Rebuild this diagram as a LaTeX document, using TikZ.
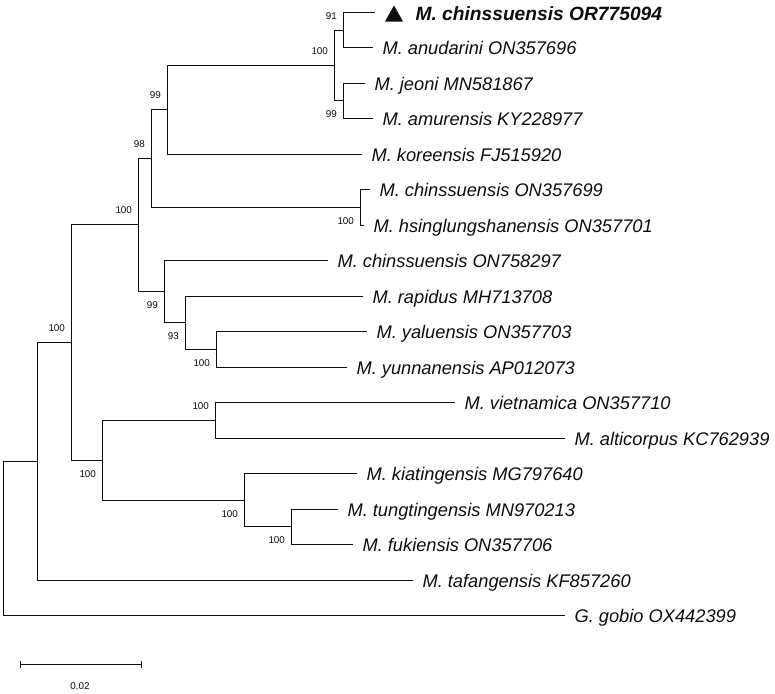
\documentclass[tikz,border=0pt]{standalone}
\usepackage{fontspec}
\setmainfont{Liberation Sans}
\usepackage{tikz}
\usetikzlibrary{calc, arrows.meta, positioning}
\definecolor{mainBlack}{gray}{0.05}
\newcommand{\taxfont}{\fontsize{13.7}{16}\selectfont\itshape}
\newcommand{\bootfont}{\fontsize{7.4}{9}\selectfont}

\begin{document}
\begin{tikzpicture}[x=0.75pt, y=-0.75pt, line width=0.8pt, mainBlack,
    taxon/.style={anchor=base west, inner sep=0pt, font=\taxfont},
    boot/.style={anchor=east, inner sep=0pt, font=\bootfont}]
    \useasboundingbox (0,0) rectangle (775,693);

    % Tips
    \coordinate (t1) at (375,12.5);
    \coordinate (t2) at (373,47.5);
    \coordinate (t3) at (365,83.5);
    \coordinate (t4) at (373,118.5);
    \coordinate (t5) at (362,154.5);
    \coordinate (t6) at (370,189.5);
    \coordinate (t7) at (364,225.5);
    \coordinate (t8) at (328,260.5);
    \coordinate (t9) at (363,296.5);
    \coordinate (t10) at (367,331.5);
    \coordinate (t11) at (347,367.5);
    \coordinate (t12) at (455,402.5);
    \coordinate (t13) at (565,438.5);
    \coordinate (t14) at (357,473.5);
    \coordinate (t15) at (338,509.5);
    \coordinate (t16) at (353,544.5);
    \coordinate (t17) at (413,580.5);
    \coordinate (t18) at (565,615.5);

    % Inner nodes
    \coordinate (i1) at (343.5,30.5);
    \coordinate (i2) at (343.5,100.5);
    \coordinate (i3) at (334.5,65.5);
    \coordinate (i4) at (167.5,109.5);
    \coordinate (i5) at (360.5,207.5);
    \coordinate (i6) at (151.5,158.5);
    \coordinate (i7) at (216.5,349.5);
    \coordinate (i8) at (185.5,322.5);
    \coordinate (i9) at (164.5,291.5);
    \coordinate (i10) at (138.5,224.5);
    \coordinate (i11) at (215.5,420.5);
    \coordinate (i12) at (291.5,526.5);
    \coordinate (i13) at (244.5,500.5);
    \coordinate (i14) at (102.5,460.5);
    \coordinate (i15) at (71.5,342.5);
    \coordinate (i16) at (37.5,461.5);
    \coordinate (root) at (3.5,538.5);

    % Branches
    \draw (i1) |- (t1);  \draw (i1) |- (t2);
    \draw (i2) |- (t3);  \draw (i2) |- (t4);
    \draw (i3) |- (i1);  \draw (i3) |- (i2);
    \draw (i4) |- (i3);  \draw (i4) |- (t5);
    \draw (i5) |- (t6);  \draw (i5) |- (t7);
    \draw (i6) |- (i4);  \draw (i6) |- (i5);
    \draw (i7) |- (t10); \draw (i7) |- (t11);
    \draw (i8) |- (t9);  \draw (i8) |- (i7);
    \draw (i9) |- (t8);  \draw (i9) |- (i8);
    \draw (i10) |- (i6); \draw (i10) |- (i9);
    \draw (i11) |- (t12); \draw (i11) |- (t13);
    \draw (i12) |- (t15); \draw (i12) |- (t16);
    \draw (i13) |- (t14); \draw (i13) |- (i12);
    \draw (i14) |- (i11); \draw (i14) |- (i13);
    \draw (i15) |- (i10); \draw (i15) |- (i14);
    \draw (i16) |- (i15); \draw (i16) |- (t17);
    \draw (root) |- (i16); \draw (root) |- (t18);

    % Bootstrap values
    \node[boot] (b1) at ($(i1)+(-6,-14)$) {91};
    \node[boot] (b2) at ($(i2)+(-6,14)$) {99};
    \node[boot] (b3) at ($(i3)+(-6,-14)$) {100};
    \node[boot] (b4) at ($(i4)+(-6,-14)$) {99};
    \node[boot] (b5) at ($(i5)+(-6,14)$) {100};
    \node[boot] (b6) at ($(i6)+(-6,-14)$) {98};
    \node[boot] (b7) at ($(i7)+(-6,14)$) {100};
    \node[boot] (b8) at ($(i8)+(-6,14)$) {93};
    \node[boot] (b9) at ($(i9)+(-6,14)$) {99};
    \node[boot] (b10) at ($(i10)+(-6,-14)$) {100};
    \node[boot] (b11) at ($(i11)+(-6,-14)$) {100};
    \node[boot] (b12) at ($(i12)+(-6,14)$) {100};
    \node[boot] (b13) at ($(i13)+(-6,14)$) {100};
    \node[boot] (b14) at ($(i14)+(-6,14)$) {100};
    \node[boot] (b15) at ($(i15)+(-6,-14)$) {100};

    % Taxa
    \fill ($(t1)+(10,9)$) -- ($(t1)+(28,9)$) -- ($(t1)+(19,-7)$) -- cycle;
    \node[taxon, font=\fontsize{14.4}{16}\selectfont\bfseries\itshape] (l1) at ($(t1)+(40,8)$) {M. chinssuensis OR775094};
    \node[taxon] (l2) at ($(t2)+(9,6.6)$) {M. anudarini ON357696};
    \node[taxon] (l3) at ($(t3)+(9,6.6)$) {M. jeoni MN581867};
    \node[taxon] (l4) at ($(t4)+(9,6.6)$) {M. amurensis KY228977};
    \node[taxon] (l5) at ($(t5)+(9,6.6)$) {M. koreensis FJ515920};
    \node[taxon] (l6) at ($(t6)+(9,6.6)$) {M. chinssuensis ON357699};
    \node[taxon] (l7) at ($(t7)+(9,6.6)$) {M. hsinglungshanensis ON357701};
    \node[taxon] (l8) at ($(t8)+(9,6.6)$) {M. chinssuensis ON758297};
    \node[taxon] (l9) at ($(t9)+(9,6.6)$) {M. rapidus MH713708};
    \node[taxon] (l10) at ($(t10)+(9,6.6)$) {M. yaluensis ON357703};
    \node[taxon] (l11) at ($(t11)+(9,6.6)$) {M. yunnanensis AP012073};
    \node[taxon] (l12) at ($(t12)+(9,6.6)$) {M. vietnamica ON357710};
    \node[taxon] (l13) at ($(t13)+(9,6.6)$) {M. alticorpus KC762939};
    \node[taxon] (l14) at ($(t14)+(9,6.6)$) {M. kiatingensis MG797640};
    \node[taxon] (l15) at ($(t15)+(9,6.6)$) {M. tungtingensis MN970213};
    \node[taxon] (l16) at ($(t16)+(9,6.6)$) {M. fukiensis ON357706};
    \node[taxon] (l17) at ($(t17)+(9,6.6)$) {M. tafangensis KF857260};
    \node[taxon] (l18) at ($(t18)+(9,6.6)$) {G. gobio OX442399};

    % Scale bar
    \coordinate (sL) at (20,664.5);
    \coordinate (sR) at (142,664.5);
    \draw[{Bar[width=5pt]}-{Bar[width=5pt]}] (sL) -- (sR);
    \node[font=\bootfont, inner sep=0pt] (sc) at (80,686) {0.02};
\end{tikzpicture}
\end{document}
